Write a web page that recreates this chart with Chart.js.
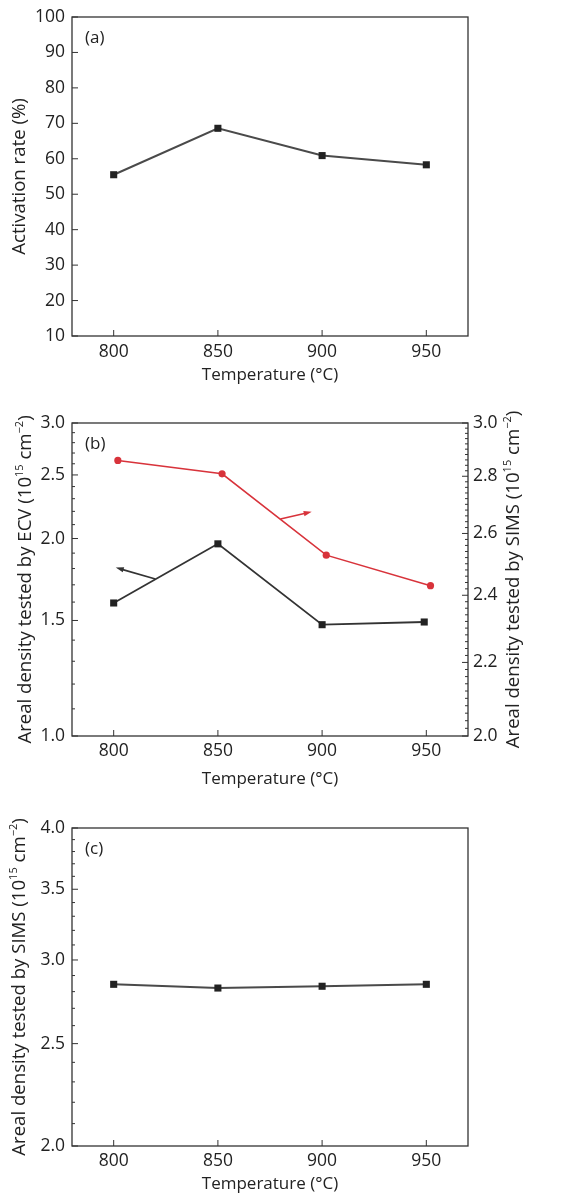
<!DOCTYPE html>
<html>
<head>
<meta charset="utf-8">
<script src="https://cdn.jsdelivr.net/npm/chart.js@4.4.1/dist/chart.umd.min.js"></script>
<style>
  body { margin: 0; background: #fff; width: 580px; height: 1193px; position: relative; overflow: hidden; }
  canvas { position: absolute; left: 0; }
</style>
</head>
<body>
<canvas id="chartA" width="580" height="395" style="top:0px"></canvas>
<canvas id="chartB" width="580" height="395" style="top:395px"></canvas>
<canvas id="chartC" width="580" height="403" style="top:790px"></canvas>
<script>
// x axis
const tempTicks = [800, 850, 900, 950];

// (a) activation rate
const temperatureA = [800, 850, 900, 950];
const activationRate = [55.5, 68.6, 60.9, 58.3];
const rateTicks = [10, 20, 30, 40, 50, 60, 70, 80, 90, 100];

// (b) ECV (left axis) and SIMS (right axis)
const temperatureEcv = [800, 850, 900, 949];
const densityEcv = [1.595, 1.963, 1.478, 1.492];
const temperatureSimsB = [802, 852, 902, 952];
const densitySimsB = [2.858, 2.809, 2.528, 2.430];
const ecvTicks = [1.0, 1.5, 2.0, 2.5, 3.0];
const simsTicksB = [2.0, 2.2, 2.4, 2.6, 2.8, 3.0];
const ecvArrow = [[820, 1.735], [801, 1.806]];
const simsArrow = [[880, 2.649], [895, 2.674]];

// (c) SIMS
const temperatureC = [800, 850, 900, 950];
const densitySimsC = [2.845, 2.822, 2.833, 2.845];
const simsTicksC = [2.0, 2.5, 3.0, 3.5, 4.0];

const FAMILY = '"Open Sans", sans-serif';
const FS = 17;        // x title, panel letter
const TICK_FS = 17.5; // tick labels
const YT_FS = 18.6;   // y titles
const INK = '#222';
const RED = '#d8333b';

function withMinor(majors, step) {
    const lo = majors[0], hi = majors[majors.length - 1];
    const n = Math.round((hi - lo) / step);
    const out = [];
    for (let i = 0; i <= n; i++) out.push(+(lo + i * step).toFixed(4));
    return out;
}

function isMajor(v, majors) {
    return majors.some(m => Math.abs(m - v) < 1e-6);
}

function toPoints(xs, ys) {
    return xs.map((x, i) => ({ x: x, y: ys[i] }));
}

function xScale(labelPad, titlePad, height) {
    return {
        type: 'linear',
        min: 780,
        max: 970,
        grid: { display: false, drawTicks: false },
        border: { display: false },
        afterBuildTicks: s => { s.ticks = tempTicks.map(v => ({ value: v })); },
        afterFit: s => { s.height = height; },
        ticks: {
            autoSkip: false, maxRotation: 0, padding: labelPad, color: INK,
            font: { family: FAMILY, size: TICK_FS, lineHeight: 1 },
            callback: v => String(v)
        },
        title: {
            display: true, text: 'Temperature (°C)', color: INK,
            font: { family: FAMILY, size: FS, lineHeight: 1 },
            padding: { top: 0, bottom: titlePad }
        }
    };
}

function yScale(type, majors, step, digits, position, width, labelPad) {
    return {
        type: type,
        position: position,
        min: majors[0],
        max: majors[majors.length - 1],
        grid: { display: false, drawTicks: false },
        border: { display: false },
        afterBuildTicks: s => {
            const vals = step ? withMinor(majors, step) : majors;
            s.ticks = vals.map(v => ({ value: v }));
        },
        afterFit: s => { s.width = width; },
        ticks: {
            autoSkip: false, padding: labelPad, color: INK,
            font: { family: FAMILY, size: TICK_FS, lineHeight: 1 },
            callback: v => isMajor(v, majors) ? v.toFixed(digits) : ''
        }
    };
}

function drawRich(ctx, parts, cx, cy, size) {
    ctx.save();
    ctx.translate(cx, cy);
    ctx.rotate(-Math.PI / 2);
    ctx.fillStyle = INK;
    ctx.textBaseline = 'middle';
    ctx.textAlign = 'left';
    const big = size + 'px ' + FAMILY;
    const small = Math.round(size * 0.58) + 'px ' + FAMILY;
    let total = 0;
    parts.forEach(p => {
        ctx.font = p.sup ? small : big;
        p.w = ctx.measureText(p.t).width;
        total += p.w;
    });
    let x = -total / 2;
    parts.forEach(p => {
        ctx.font = p.sup ? small : big;
        ctx.fillText(p.t, x, p.sup ? -size * 0.33 : 0);
        x += p.w;
    });
    ctx.restore();
}

function densityTitle(method) {
    return [
        { t: 'Areal density tested by ' + method + ' (10' },
        { t: '15', sup: true },
        { t: ' cm' },
        { t: '\u22122', sup: true },
        { t: ')' }
    ];
}

function drawArrow(ctx, xs, ys, arrow, color) {
    const x0 = xs.getPixelForValue(arrow[0][0]), y0 = ys.getPixelForValue(arrow[0][1]);
    const x1 = xs.getPixelForValue(arrow[1][0]), y1 = ys.getPixelForValue(arrow[1][1]);
    const ang = Math.atan2(y1 - y0, x1 - x0);
    const len = 8, half = 2.6;
    ctx.save();
    ctx.strokeStyle = color;
    ctx.fillStyle = color;
    ctx.lineWidth = 1.6;
    ctx.beginPath();
    ctx.moveTo(x0, y0);
    ctx.lineTo(x1 - Math.cos(ang) * len * 0.8, y1 - Math.sin(ang) * len * 0.8);
    ctx.stroke();
    ctx.beginPath();
    ctx.moveTo(x1, y1);
    ctx.lineTo(x1 - Math.cos(ang) * len - Math.sin(ang) * half, y1 - Math.sin(ang) * len + Math.cos(ang) * half);
    ctx.lineTo(x1 - Math.cos(ang) * len + Math.sin(ang) * half, y1 - Math.sin(ang) * len - Math.cos(ang) * half);
    ctx.closePath();
    ctx.fill();
    ctx.restore();
}

// frame, inward ticks, panel letter, rich y titles, arrows
const decor = {
    id: 'decor',
    afterDraw(chart, args, opts) {
        const ctx = chart.ctx;
        const a = chart.chartArea;
        ctx.save();
        ctx.strokeStyle = '#333';
        ctx.lineWidth = 1.3;
        ctx.strokeRect(a.left, a.top, a.right - a.left, a.bottom - a.top);
        ctx.lineWidth = 1;
        Object.values(chart.scales).forEach(s => {
            s.ticks.forEach(t => {
                const len = t.label === '' ? 3 : 6;
                const p = s.getPixelForValue(t.value);
                ctx.beginPath();
                if (s.position === 'bottom') {
                    ctx.moveTo(p, a.bottom); ctx.lineTo(p, a.bottom - len);
                } else if (s.position === 'left') {
                    ctx.moveTo(a.left, p); ctx.lineTo(a.left + len, p);
                } else if (s.position === 'right') {
                    ctx.moveTo(a.right, p); ctx.lineTo(a.right - len, p);
                }
                ctx.stroke();
            });
        });
        ctx.fillStyle = INK;
        ctx.font = FS + 'px ' + FAMILY;
        ctx.textAlign = 'left';
        ctx.textBaseline = 'middle';
        ctx.fillText(opts.letter, a.left + 13, a.top + 21);
        ctx.restore();
        (opts.titles || []).forEach(tt => {
            const parts = typeof tt.text === 'string' ? [{ t: tt.text }] : tt.text;
            drawRich(ctx, parts, tt.x, (a.top + a.bottom) / 2, YT_FS);
        });
        (opts.arrows || []).forEach(ar => {
            drawArrow(ctx, chart.scales.x, chart.scales[ar.axis], ar.pts, ar.color);
        });
    }
};

function baseOptions(padding, scales, decorOpts) {
    return {
        responsive: false,
        animation: false,
        devicePixelRatio: 1,
        layout: { padding: padding },
        plugins: { legend: { display: false }, tooltip: { enabled: false }, decor: decorOpts },
        scales: scales
    };
}

new Chart(document.getElementById('chartA'), {
    type: 'line',
    data: {
        datasets: [{
            data: toPoints(temperatureA, activationRate),
            borderColor: '#4a4a4a', borderWidth: 2,
            pointStyle: 'rect', pointRadius: 5, pointBackgroundColor: INK, pointBorderColor: INK,
            pointBorderWidth: 0
        }]
    },
    options: baseOptions({ left: 0, right: 112, top: 17, bottom: 0 }, {
        x: xScale(7, 11, 59),
        y: yScale('linear', rateTicks, 0, 0, 'left', 72, 7)
    }, { letter: '(a)', titles: [{ text: 'Activation rate (%)', x: 20 }] }),
    plugins: [decor]
});

new Chart(document.getElementById('chartB'), {
    type: 'line',
    data: {
        datasets: [{
            data: toPoints(temperatureEcv, densityEcv), yAxisID: 'y',
            borderColor: '#333', borderWidth: 1.8,
            pointStyle: 'rect', pointRadius: 5, pointBackgroundColor: INK, pointBorderColor: INK,
            pointBorderWidth: 0
        }, {
            data: toPoints(temperatureSimsB, densitySimsB), yAxisID: 'y2',
            borderColor: RED, borderWidth: 1.6,
            pointStyle: 'circle', pointRadius: 3.6, pointBackgroundColor: RED, pointBorderColor: RED,
            pointBorderWidth: 0
        }]
    },
    options: baseOptions({ left: 0, right: 0, top: 28, bottom: 0 }, {
        x: xScale(6, 2, 54),
        y: yScale('logarithmic', ecvTicks, 0.1, 1, 'left', 72, 7),
        y2: yScale('logarithmic', simsTicksB, 0.02, 1, 'right', 112, 5)
    }, {
        letter: '(b)',
        titles: [{ text: densityTitle('ECV'), x: 26 }, { text: densityTitle('SIMS'), x: 514 }],
        arrows: [{ pts: ecvArrow, axis: 'y', color: '#333' }, { pts: simsArrow, axis: 'y2', color: RED }]
    }),
    plugins: [decor]
});

new Chart(document.getElementById('chartC'), {
    type: 'line',
    data: {
        datasets: [{
            data: toPoints(temperatureC, densitySimsC),
            borderColor: '#4a4a4a', borderWidth: 2,
            pointStyle: 'rect', pointRadius: 5, pointBackgroundColor: INK, pointBorderColor: INK,
            pointBorderWidth: 0
        }]
    },
    options: baseOptions({ left: 0, right: 112, top: 38, bottom: 0 }, {
        x: xScale(6, 0, 47),
        y: yScale('logarithmic', simsTicksC, 0.1, 1, 'left', 72, 7)
    }, { letter: '(c)', titles: [{ text: densityTitle('SIMS'), x: 20 }] }),
    plugins: [decor]
});
</script>
</body>
</html>
